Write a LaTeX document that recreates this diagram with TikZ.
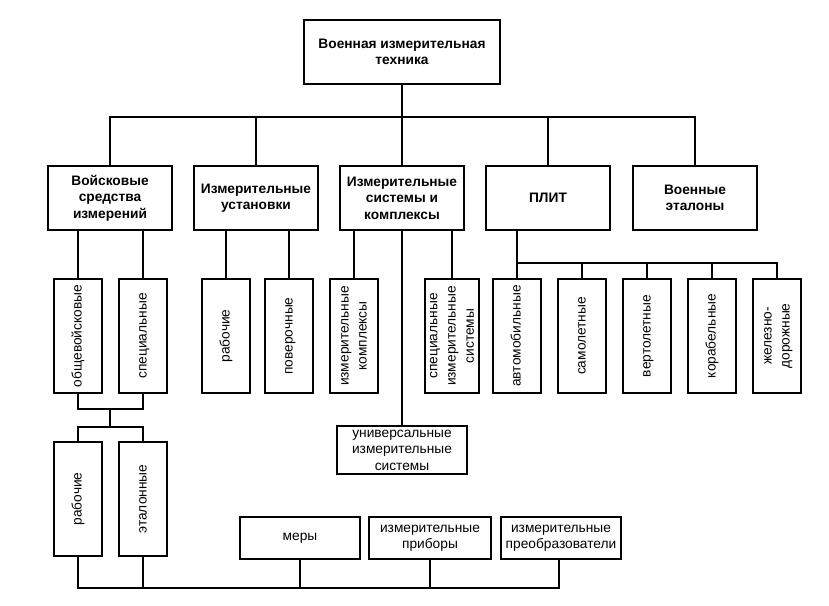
\documentclass[tikz,border=0pt]{standalone}
\usepackage{fontspec}
\setmainfont{Liberation Sans}
\usepackage{graphicx}

% текст, повёрнутый на 90 градусов
\newcommand{\vertext}[1]{\rotatebox{90}{\def\arraystretch{1.1}\begin{tabular}{@{}c@{}}#1\end{tabular}}}

\tikzset{
  hop/.style={draw, align=center, inner sep=0pt, font=\fontsize{10.3}{12.4}\selectfont},
  hopdam/.style={hop, font=\fontsize{10.3}{12.4}\selectfont\bfseries, minimum width=93pt, minimum height=48pt},
  hopdoc/.style={hop, minimum width=36pt, minimum height=85.5pt},
  hopnhan/.style={hop, minimum width=90pt, minimum height=31.5pt}
}

\begin{document}
\begin{tikzpicture}[x=0.75pt, y=-0.75pt, line width=1.5pt]
    \useasboundingbox (0,0) rectangle (829,606);

    % ==================== ВЕРХНИЙ УРОВЕНЬ ====================
    \node[hop, font=\fontsize{10.3}{12.4}\selectfont\bfseries, minimum width=147pt, minimum height=48pt]
        (top) at (402,52) {Военная измерительная\\техника};

    % Виды военной измерительной техники
    \node[hopdam] (vsi)  at (110,198) {Войсковые\\средства\\измерений};
    \node[hopdam] (ust)  at (256,198) {Измерительные\\установки};
    \node[hopdam] (sys)  at (402,198) {Измерительные\\системы и\\комплексы};
    \node[hopdam] (plit) at (548,198) {ПЛИТ};
    \node[hopdam] (etal) at (695,198) {Военные\\эталоны};

    % Шина под верхним блоком
    \coordinate (bus) at (402,117);
    \draw (top.south) -- (sys.north);
    \draw (vsi.north) |- (bus) -| (etal.north);
    \draw (ust.north) -- (ust.north |- bus);
    \draw (plit.north) -- (plit.north |- bus);

    % ==================== ВТОРОЙ УРОВЕНЬ ====================
    \node[hopdoc] (obw)  at (78,336)  {\vertext{общевойсковые}};
    \node[hopdoc] (spec) at (143,336) {\vertext{специальные}};
    \node[hopdoc] (rab)  at (226,336) {\vertext{рабочие}};
    \node[hopdoc] (pov)  at (289,336) {\vertext{поверочные}};
    \node[hopdoc] (kom)  at (354,336) {\vertext{измерительные\\комплексы}};
    \node[hopdoc] (sis)  at (452,336) {\vertext{специальные\\измерительные\\системы}};
    \node[hopdoc] (avto) at (517,336) {\vertext{автомобильные}};
    \node[hopdoc] (sam)  at (582,336) {\vertext{самолетные}};
    \node[hopdoc] (vert) at (647,336) {\vertext{вертолетные}};
    \node[hopdoc] (kor)  at (712,336) {\vertext{корабельные}};
    \node[hopdoc] (zhel) at (777,336) {\vertext{железно-\\дорожные}};
    \node[hop, minimum width=97.5pt, minimum height=36pt] (univ) at (402,450)
        {универсальные\\измерительные\\системы};

    % Связи со вторым уровнем
    \draw (obw.north)  -- (obw.north |- vsi.south);
    \draw (spec.north) -- (spec.north |- vsi.south);
    \draw (rab.north)  -- (rab.north |- ust.south);
    \draw (pov.north)  -- (pov.north |- ust.south);
    \draw (kom.north)  -- (kom.north |- sys.south);
    \draw (sis.north)  -- (sis.north |- sys.south);
    \draw (sys.south)  -- (univ.north);

    % Шина ПЛИТ
    \coordinate (pb) at (517,263);
    \draw (avto.north) -- (avto.north |- plit.south);
    \draw (pb) -| (zhel.north);
    \foreach \n in {sam, vert, kor}
        \draw (\n.north) -- (\n.north |- pb);

    % ==================== НИЖНИЙ УРОВЕНЬ ====================
    \node[hopdoc] (rab2) at (78,499)  {\vertext{рабочие}};
    \node[hopdoc] (etl)  at (143,499) {\vertext{эталонные}};
    \node[hopnhan] (mery) at (300,538) {меры};
    \node[hopnhan, minimum width=91.5pt] (prib) at (430,538) {измерительные\\приборы};
    \node[hopnhan] (preo) at (561,538) {измерительные\\преобразователи};

    % Объединение общевойсковых и специальных
    \coordinate (j1) at (110,409);
    \coordinate (j2) at (110,427);
    \draw (obw.south) |- (j1) -| (spec.south);
    \draw (j1) -- (j2);
    \draw (rab2.north) |- (j2) -| (etl.north);

    % Нижняя шина
    \coordinate (bb) at (559,588);
    \draw (rab2.south) |- (bb) -- (bb |- preo.south);
    \foreach \n in {etl, mery, prib}
        \draw (\n.south) -- (\n.south |- bb);
\end{tikzpicture}
\end{document}
